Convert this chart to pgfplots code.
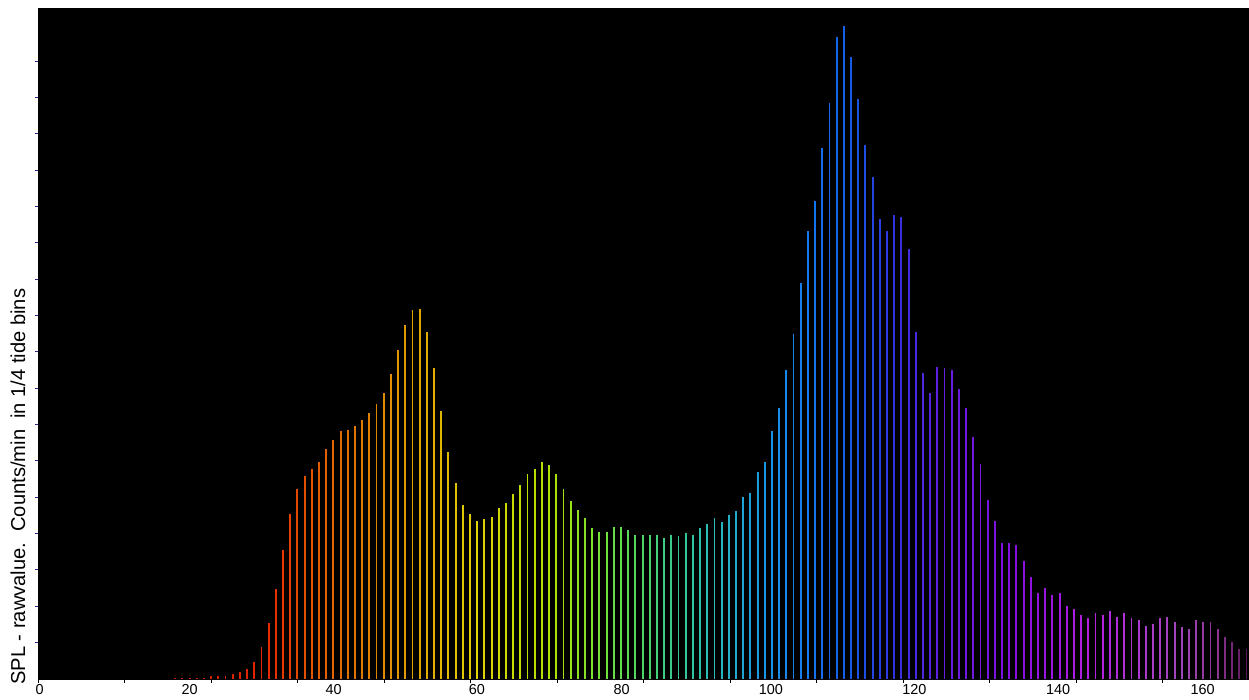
\documentclass[border=0pt]{standalone}
\usepackage{pgfplots}
\pgfplotsset{compat=1.18}
\usepackage{pgfplotstable}
\usepackage{fontspec}
\setmainfont{Liberation Sans}
\definecolor{ytickcol}{RGB}{40,40,140}

\pgfplotstableread{
k h
18 1.3
19 1
20 1
21 1
22 1.3
23 3
24 3
25 3
26 5
27 6.7
28 10
29 17.3
30 32
31 55.5
32 89.7
33 129
34 165
35 190.3
36 203
37 210.3
38 217.3
39 230
40 238.7
41 248
42 249.3
43 253.3
44 258.7
45 266
46 275
47 285.7
48 305.3
49 329
50 354.3
51 368.7
52 370.3
53 347
54 310.7
55 267.7
56 226.5
57 195.7
58 174
59 165
60 158
61 159.7
62 161.7
63 170.7
64 176
65 185
66 193.7
67 204.7
68 210
69 217.3
70 213.7
71 204.7
72 190.3
73 177.7
74 168.7
75 161.3
76 150.7
77 147
78 147
79 152.3
80 152.3
81 149
82 143.7
83 144
84 144
85 144
86 140.7
87 144.3
88 142.7
89 146.3
90 144.3
91 151.3
92 155.3
93 160.7
94 157
95 164.3
96 167.7
97 182.3
98 185.7
99 207
100 217.3
101 248
102 271.3
103 309
104 345.3
105 395.7
106 448
107 478.3
108 530.7
109 575.7
110 642.3
111 653.3
112 622.3
113 579.7
114 534.3
115 501.7
116 460.3
117 448
118 464
119 462.3
120 430
121 346.7
122 305.7
123 285.7
124 312.3
125 310.7
126 309
127 289.5
128 271.3
129 242.3
130 215.3
131 179.3
132 157.7
133 136.3
134 136.3
135 134.3
136 118.3
137 101.7
138 86
139 91.3
140 83.7
141 85.7
142 73
143 69.7
144 64
145 60.7
146 66
147 64.3
148 67.7
149 62.3
150 66
151 60.7
152 58.7
153 53.3
154 55
155 60.7
156 62.3
157 57
158 51.7
159 49.7
160 58.7
161 57
162 57
163 49.7
164 42.3
165 37
166 30
167 30
}\spl

\begin{document}
\begin{tikzpicture}
\useasboundingbox (-38bp,-21bp) rectangle (1211bp,679bp);
\begin{axis}[
  at={(0,0)}, anchor=south west,
  scale only axis,
  width=1211bp, height=671bp,
  xmin=-1.085, xmax=167.349,
  ymin=0, ymax=671,
  axis background/.style={fill=black},
  axis line style={black, line width=0.6bp},
  axis x line*=bottom, axis y line*=left,
  tick align=outside,
  major tick length=3.5bp,
  xtick={-1.085,10.946,22.977,35.008,47.039,59.07,71.101,83.132,95.163,107.194,119.225,131.256,143.287,155.318,167.349},
  xticklabels={},
  x tick style={black, line width=1bp},
  extra x ticks={-0.85,20,40.05,59.97,80.1,100.85,120.8,140.8,160.9},
  extra x tick labels={0,20,40,60,80,100,120,140,160},
  extra x tick style={major tick length=0pt, xticklabel style={yshift=-5bp}},
  xticklabel style={font=\fontsize{14.5}{16}\selectfont, inner sep=0pt, anchor=north},
  ytick={36.35,72.7,109.05,145.4,181.75,218.1,254.45,290.8,327.15,363.5,399.85,436.2,472.55,508.9,545.25,581.6,617.95},
  yticklabels={},
  y tick style={ytickcol, line width=1bp},
  ylabel={SPL - rawvalue.\ \ Counts/min\ \ in 1/4 tide bins},
  ylabel style={at={(axis description cs:-0.01073,-0.0089)}, anchor=base west, font=\fontsize{20.2}{22}\selectfont, inner sep=0pt},
  colormap={spectrum}{
    rgb255(18pt)=(200,30,0)
    rgb255(30pt)=(230,35,0)
    rgb255(36pt)=(228,80,0)
    rgb255(45pt)=(225,128,0)
    rgb255(52pt)=(225,165,0)
    rgb255(60pt)=(225,210,0)
    rgb255(70pt)=(175,225,0)
    rgb255(78pt)=(110,225,60)
    rgb255(86pt)=(60,205,130)
    rgb255(93pt)=(40,185,185)
    rgb255(100pt)=(25,150,230)
    rgb255(106pt)=(20,120,240)
    rgb255(112pt)=(20,90,230)
    rgb255(118pt)=(50,50,225)
    rgb255(125pt)=(100,30,225)
    rgb255(135pt)=(135,15,225)
    rgb255(145pt)=(180,30,225)
    rgb255(152pt)=(175,55,210)
    rgb255(158pt)=(160,70,185)
    rgb255(163pt)=(140,50,145)
    rgb255(167pt)=(90,25,90)
  },
  point meta min=18, point meta max=167,
  clip=true,
]
\addplot[
  quiver={u=0, v=-\thisrow{h}, colored=mapped color, every arrow/.append style={-, line width=1.9bp}},
  point meta=\thisrow{k},
] table[x=k, y=h] {\spl};
\end{axis}
\end{tikzpicture}
\end{document}
